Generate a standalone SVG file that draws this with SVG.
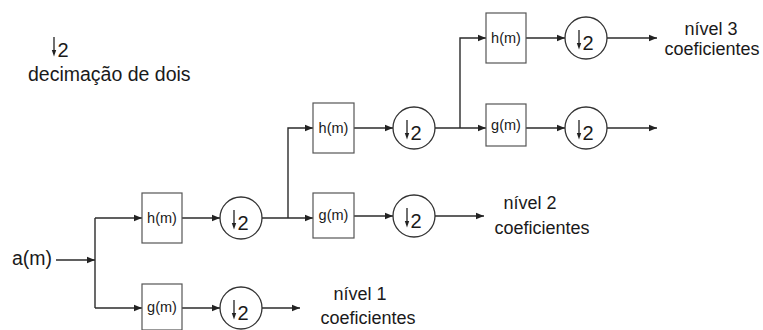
<svg xmlns="http://www.w3.org/2000/svg" width="763" height="330" viewBox="0 0 763 330">
  <style>
    .wire { fill: none; stroke: #2b2b2b; stroke-width: 1.4; }
    .box { fill: #fff; stroke: #555; stroke-width: 1.2; }
    .dec { fill: #fff; stroke: #333; stroke-width: 1.3; }
    .lbl { font-family: "Liberation Sans", Arial, sans-serif; fill: #1a1a1a; }
    .small { font-size: 14.5px; }
    .mid { font-size: 18px; }
    .big { font-size: 19.5px; }
    .two { font-size: 20px; }
  </style>
  <defs>
    <marker id="arr" markerWidth="9" markerHeight="8" refX="8" refY="4" orient="auto" markerUnits="userSpaceOnUse">
      <path d="M0,0.8 L8,4 L0,7.2 Z" fill="#222"/>
    </marker>
    <!-- downsampling symbol: small down arrow followed by "2" -->
    <g id="down2">
      <line x1="-7" y1="-8" x2="-7" y2="7" stroke="#222" stroke-width="1.3"/>
      <path d="M-9.2,5 L-4.8,5 L-7,11.5 Z" fill="#222"/>
      <text x="-3.5" y="12" class="lbl two">2</text>
    </g>
  </defs>

  <!-- legend -->
  <g id="legend">
    <use href="#down2" x="61" y="45"/>
    <text x="28" y="81" class="lbl big">decimação de dois</text>
  </g>

  <!-- connectors -->
  <g id="connectors">
    <line class="wire" x1="56" y1="260" x2="95" y2="260" marker-end="url(#arr)"/>
    <polyline class="wire" points="95,218 95,308"/>
    <line class="wire" x1="95" y1="218" x2="142" y2="218" marker-end="url(#arr)"/>
    <line class="wire" x1="95" y1="308" x2="142" y2="308" marker-end="url(#arr)"/>
    <line class="wire" x1="182" y1="218" x2="220" y2="218" marker-end="url(#arr)"/>
    <line class="wire" x1="182" y1="308" x2="220" y2="308" marker-end="url(#arr)"/>
    <line class="wire" x1="262" y1="308" x2="300" y2="308" marker-end="url(#arr)"/>

    <line class="wire" x1="262" y1="218" x2="313" y2="218" marker-end="url(#arr)"/>
    <polyline class="wire" points="288,218 288,128 313,128" marker-end="url(#arr)"/>
    <line class="wire" x1="354" y1="128" x2="393" y2="128" marker-end="url(#arr)"/>
    <line class="wire" x1="354" y1="216" x2="393" y2="216" marker-end="url(#arr)"/>
    <line class="wire" x1="435" y1="216" x2="484" y2="216" marker-end="url(#arr)"/>

    <line class="wire" x1="435" y1="128" x2="486" y2="128" marker-end="url(#arr)"/>
    <polyline class="wire" points="460,128 460,38 486,38" marker-end="url(#arr)"/>
    <line class="wire" x1="526" y1="38" x2="565" y2="38" marker-end="url(#arr)"/>
    <line class="wire" x1="526" y1="128" x2="565" y2="128" marker-end="url(#arr)"/>
    <line class="wire" x1="607" y1="38" x2="657" y2="38" marker-end="url(#arr)"/>
    <line class="wire" x1="607" y1="128" x2="657" y2="128" marker-end="url(#arr)"/>
  </g>

  <!-- input -->
  <g id="input">
    <text x="12" y="265" class="lbl big">a(m)</text>
  </g>

  <!-- level 1 -->
  <g id="h1"><rect class="box" x="142" y="193" width="40" height="50"/><text x="162" y="223" text-anchor="middle" class="lbl small">h(m)</text></g>
  <g id="g1"><rect class="box" x="142" y="284" width="40" height="46"/><text x="162" y="312" text-anchor="middle" class="lbl small">g(m)</text></g>
  <g id="d1h"><circle class="dec" cx="241" cy="218" r="21"/><use href="#down2" x="241" y="218"/></g>
  <g id="d1g"><circle class="dec" cx="241" cy="308" r="21"/><use href="#down2" x="241" y="308"/></g>
  <g id="out1">
    <text x="360" y="300" text-anchor="middle" class="lbl mid">nível 1</text>
    <text x="368" y="324" text-anchor="middle" class="lbl mid">coeficientes</text>
  </g>

  <!-- level 2 -->
  <g id="h2"><rect class="box" x="313" y="103" width="41" height="50"/><text x="333.5" y="133" text-anchor="middle" class="lbl small">h(m)</text></g>
  <g id="g2"><rect class="box" x="313" y="193" width="41" height="45"/><text x="333.5" y="220" text-anchor="middle" class="lbl small">g(m)</text></g>
  <g id="d2h"><circle class="dec" cx="414" cy="128" r="21"/><use href="#down2" x="414" y="128"/></g>
  <g id="d2g"><circle class="dec" cx="414" cy="216" r="21"/><use href="#down2" x="414" y="216"/></g>
  <g id="out2">
    <text x="530" y="209" text-anchor="middle" class="lbl mid">nível 2</text>
    <text x="542" y="234" text-anchor="middle" class="lbl mid">coeficientes</text>
  </g>

  <!-- level 3 -->
  <g id="h3"><rect class="box" x="486" y="13" width="40" height="50"/><text x="506" y="43" text-anchor="middle" class="lbl small">h(m)</text></g>
  <g id="g3"><rect class="box" x="486" y="104" width="40" height="42"/><text x="506" y="130" text-anchor="middle" class="lbl small">g(m)</text></g>
  <g id="d3h"><circle class="dec" cx="586" cy="38" r="21"/><use href="#down2" x="586" y="38"/></g>
  <g id="d3g"><circle class="dec" cx="586" cy="128" r="21"/><use href="#down2" x="586" y="128"/></g>
  <g id="out3">
    <text x="711" y="35" text-anchor="middle" class="lbl mid">nível 3</text>
    <text x="712" y="55" text-anchor="middle" class="lbl mid">coeficientes</text>
  </g>
</svg>
